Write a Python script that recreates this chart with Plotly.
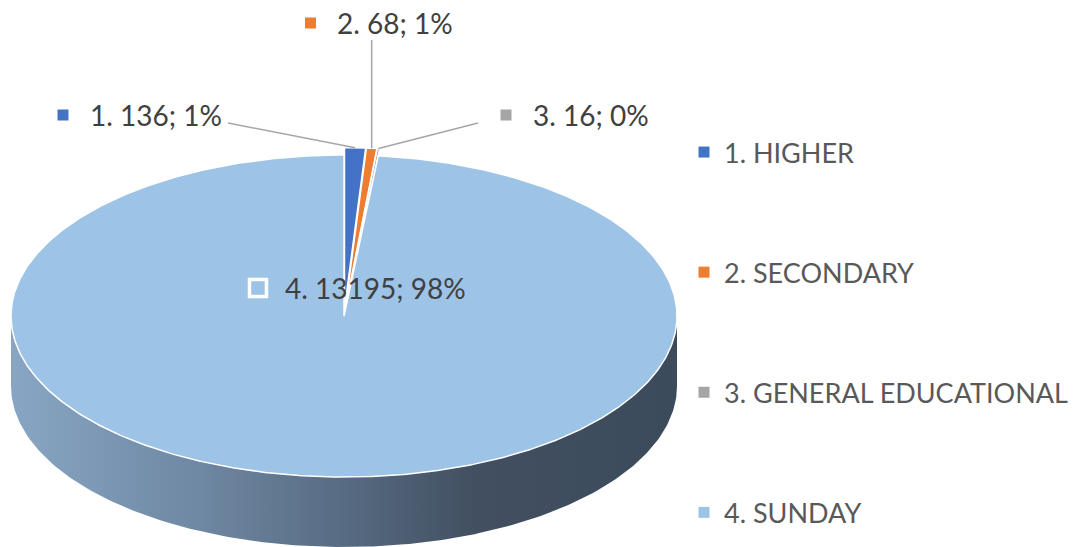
import numpy as np
import plotly.graph_objects as go

# ---------------- data ----------------
categories = ["1. HIGHER", "2. SECONDARY", "3. GENERAL EDUCATIONAL", "4. SUNDAY"]
short_names = ["1.", "2.", "3.", "4."]
values = [136, 68, 16, 13195]
colors = ["#4472C4", "#ED7D31", "#A5A5A5", "#9DC3E6"]

# ---------------- geometry / style ----------------
W, H = 1078, 547
CX, CY, RX, RY, DEPTH = 344, 316, 333, 161, 70
EXPLODE = 0.045          # relative radial offset of small slices
FONT = "Lato"
LABEL_SIZE = 28
LEGEND_SIZE = 27
TXT_DARK = "#404040"
TXT_LEG = "#595959"
LEADER = "#A6A6A6"

total = sum(values)
fracs = [v / total for v in values]
pcts = [int(round(100 * f)) for f in fracs]


def ell(theta_deg, dx=0.0, dy=0.0, drop=0.0):
    t = np.radians(theta_deg)
    return CX + RX * np.sin(t) + dx, CY - RY * np.cos(t) + dy + drop


fig = go.Figure()

# side of the cylinder (front half, visible)
th = np.linspace(90, 270, 200)
tx, ty = ell(th)
bx, by = ell(th[::-1], drop=DEPTH)
fig.add_trace(go.Scatter(
    x=np.concatenate([tx, bx, tx[:1]]), y=np.concatenate([ty, by, ty[:1]]),
    mode="lines", fill="toself", line=dict(width=0, color="rgba(0,0,0,0)"),
    fillgradient=dict(type="horizontal", colorscale=[
        [0.0, "#88a6c4"], [0.28, "#6f88a3"], [0.5, "#576b82"],
        [0.7, "#414f60"], [1.0, "#3c4b5b"]]),
    hoverinfo="skip", showlegend=False))

# slices (top faces), clockwise from 12 o'clock
start = 0.0
mids = []
for i, (f, col) in enumerate(zip(fracs, colors)):
    a0, a1 = start * 360, (start + f) * 360
    mid = (a0 + a1) / 2
    mids.append(mid)
    if f < 0.5:
        dx = EXPLODE * RX * np.sin(np.radians(mid))
        dy = -EXPLODE * RY * np.cos(np.radians(mid))
    else:
        dx = dy = 0.0
    arc = np.linspace(a0, a1, max(int((a1 - a0) * 2), 4))
    ax_, ay_ = ell(arc, dx, dy)
    xs = np.concatenate([[CX + dx], ax_, [CX + dx]])
    ys = np.concatenate([[CY + dy], ay_, [CY + dy]])
    fig.add_trace(go.Scatter(
        x=xs, y=ys, mode="lines", fill="toself", fillcolor=col,
        line=dict(color="white", width=1.5),
        hoverinfo="skip", showlegend=False))
    start += f

# leader lines + data labels
label_anchor = [(228, 123), (None, 40), (478, 123), None]
marker_pos = [(63, 115), (310.5, 23), (506, 115), (258, 288)]
text_pos = [(88, 115), (335, 23), (531, 115), (283, 288)]
for i in range(4):
    if label_anchor[i] is not None:
        mid = mids[i]
        dx = EXPLODE * RX * np.sin(np.radians(mid))
        dy = -EXPLODE * RY * np.cos(np.radians(mid))
        px, py = ell(mid, dx, dy)
        lx, ly = label_anchor[i]
        if lx is None:
            lx = px
        fig.add_trace(go.Scatter(x=[lx, px], y=[ly, py], mode="lines",
                                 line=dict(color=LEADER, width=1.5),
                                 hoverinfo="skip", showlegend=False))
    mx, my = marker_pos[i]
    if i == 3:
        mk = dict(symbol="square", size=17, color=colors[i],
                  line=dict(color="white", width=3.5))
    else:
        mk = dict(symbol="square", size=11, color=colors[i], line=dict(width=0))
    fig.add_trace(go.Scatter(x=[mx], y=[my], mode="markers", marker=mk,
                             hoverinfo="skip", showlegend=False))
    fig.add_annotation(x=text_pos[i][0], y=text_pos[i][1], xref="x", yref="y",
                       text=f"{short_names[i]} {values[i]}; {pcts[i]}%",
                       showarrow=False, xanchor="left", yanchor="middle",
                       font=dict(family=FONT, size=LABEL_SIZE, color=TXT_DARK))

# legend entries
for i, (name, col) in enumerate(zip(categories, colors)):
    fig.add_trace(go.Scatter(x=[None], y=[None], mode="markers", name=name,
                             legendgroup=f"g{i}",
                             marker=dict(symbol="square", size=11, color=col)))

fig.update_layout(
    width=W, height=H, margin=dict(l=0, r=0, t=0, b=0, autoexpand=False),
    paper_bgcolor="white", plot_bgcolor="white",
    xaxis=dict(range=[0, W], visible=False, fixedrange=True),
    yaxis=dict(range=[H, 0], visible=False, fixedrange=True),
    showlegend=True,
    legend=dict(x=684 / W, y=1 - 128 / H, xanchor="left", yanchor="top",
                xref="container", yref="container",
                font=dict(family=FONT, size=LEGEND_SIZE, color=TXT_LEG),
                tracegroupgap=82, bgcolor="rgba(0,0,0,0)",
                itemsizing="trace"),
)
fig.update_layout(legend_maxheight=H)

fig.write_html("out.html", config={"displayModeBar": False},
               post_script="document.body.style.margin='0';"
                           "document.body.style.overflow='hidden';")
